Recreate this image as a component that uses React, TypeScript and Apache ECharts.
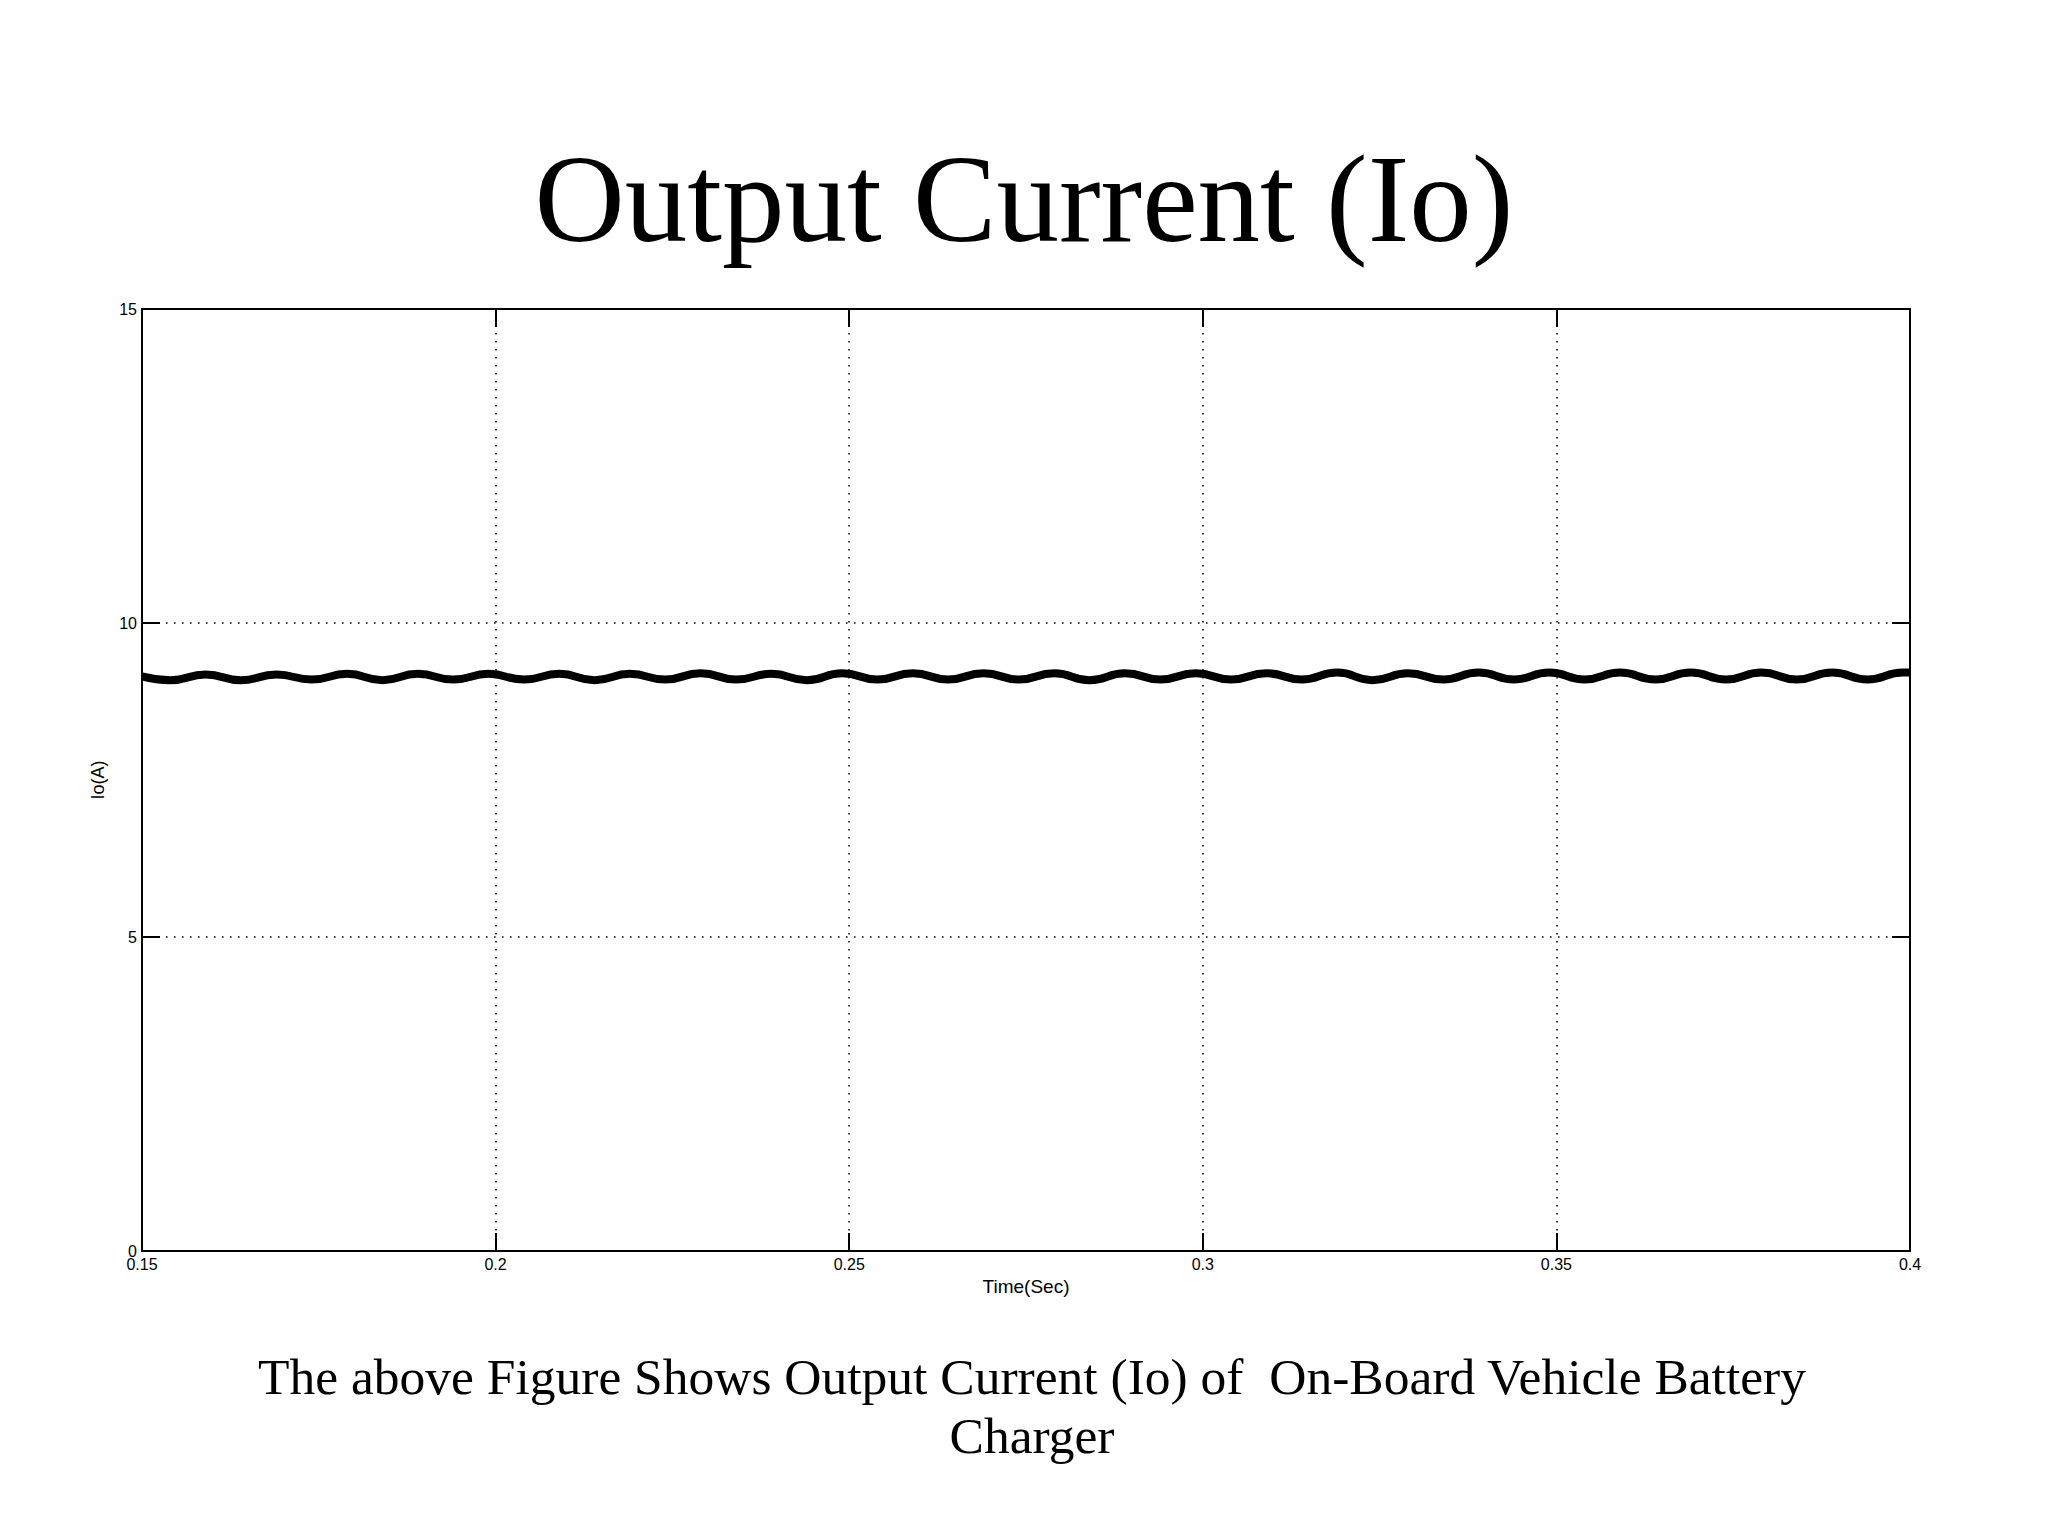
import React, { useRef, useEffect } from "react";
import * as echarts from "echarts";

// sample times (s): start, then trough / peak pairs of the 100 Hz ripple, end
const times = [
  0.15,
  0.154, 0.159, 0.164, 0.169, 0.174, 0.179, 0.184, 0.189, 0.194, 0.199,
  0.204, 0.209, 0.214, 0.219, 0.224, 0.229, 0.234, 0.239, 0.244, 0.249,
  0.254, 0.259, 0.264, 0.269, 0.274, 0.279, 0.284, 0.289, 0.294, 0.299,
  0.304, 0.309, 0.314, 0.319, 0.324, 0.329, 0.334, 0.339, 0.344, 0.349,
  0.354, 0.359, 0.364, 0.369, 0.374, 0.379, 0.384, 0.389, 0.394, 0.399,
  0.4,
];

// output current Io (A) at those times
const current = [
  9.15,
  9.09, 9.18, 9.09, 9.18, 9.1, 9.19, 9.09, 9.19, 9.1, 9.19,
  9.1, 9.19, 9.09, 9.19, 9.1, 9.2, 9.1, 9.19, 9.09, 9.2,
  9.1, 9.2, 9.1, 9.2, 9.1, 9.2, 9.09, 9.2, 9.1, 9.2,
  9.1, 9.2, 9.1, 9.21, 9.09, 9.2, 9.1, 9.21, 9.1, 9.21,
  9.1, 9.21, 9.1, 9.21, 9.1, 9.21, 9.1, 9.21, 9.1, 9.21,
  9.21,
];

const xTicks = [0.15, 0.2, 0.25, 0.3, 0.35, 0.4];
const yTicks = [0, 5, 10, 15];

const titleText = "Output Current (Io)";
const captionLines = [
  "The above Figure Shows Output Current (Io) of  On-Board Vehicle Battery",
  "Charger",
];

const serif = '"Liberation Serif", "Times New Roman", serif';
const sans = '"Liberation Sans", Arial, sans-serif';

const fmtTick = (v: number) => String(Number(v.toFixed(2)));

const App = function () {
  const chart = useRef<HTMLDivElement>(null);

  useEffect(() => {
    if (!chart.current) return;
    const myChart = echarts.init(chart.current, undefined, { renderer: "svg" });

    const xStep = xTicks[1] - xTicks[0];
    const yStep = yTicks[1] - yTicks[0];

    const tick = { show: true, inside: true, length: 18, lineStyle: { color: "#000", width: 2 } };
    const frame = { show: true, onZero: false, lineStyle: { color: "#000", width: 2 } };
    const dotted = {
      show: true,
      lineStyle: { color: "#000", width: 1.5, type: [1.5, 6.5] as number[] },
    };

    const option = {
      animation: false,
      backgroundColor: "#fff",
      title: {
        text: titleText,
        left: "center",
        top: 131,
        textStyle: {
          fontFamily: serif,
          fontSize: 125,
          fontWeight: "normal",
          color: "#000",
        },
      },
      grid: {
        left: 142,
        top: 309,
        width: 1768,
        height: 942,
        containLabel: false,
      },
      xAxis: [
        {
          type: "value",
          position: "bottom",
          min: xTicks[0],
          max: xTicks[xTicks.length - 1],
          interval: xStep,
          name: "Time(Sec)",
          nameLocation: "middle",
          nameGap: 24,
          nameTextStyle: { fontFamily: sans, fontSize: 19, color: "#000" },
          axisLine: frame,
          axisTick: tick,
          axisLabel: {
            margin: 5,
            fontFamily: sans,
            fontSize: 16,
            color: "#000",
            formatter: fmtTick,
          },
          splitLine: dotted,
        },
        {
          type: "value",
          position: "top",
          min: xTicks[0],
          max: xTicks[xTicks.length - 1],
          interval: xStep,
          axisLine: frame,
          axisTick: tick,
          axisLabel: { show: false },
          splitLine: { show: false },
        },
      ],
      yAxis: [
        {
          type: "value",
          position: "left",
          min: yTicks[0],
          max: yTicks[yTicks.length - 1],
          interval: yStep,
          name: "Io(A)",
          nameLocation: "middle",
          nameGap: 35,
          nameTextStyle: { fontFamily: sans, fontSize: 18, color: "#000" },
          axisLine: frame,
          axisTick: tick,
          axisLabel: {
            margin: 5,
            fontFamily: sans,
            fontSize: 16,
            color: "#000",
          },
          splitLine: dotted,
        },
        {
          type: "value",
          position: "right",
          min: yTicks[0],
          max: yTicks[yTicks.length - 1],
          interval: yStep,
          axisLine: frame,
          axisTick: tick,
          axisLabel: { show: false },
          splitLine: { show: false },
        },
      ],
      series: [
        {
          name: "Io",
          type: "line",
          xAxisIndex: 0,
          yAxisIndex: 0,
          data: times.map((t, i) => [t, current[i]]),
          showSymbol: false,
          smooth: 0.5,
          lineStyle: { color: "#000", width: 8 },
          z: 5,
        },
      ],
      graphic: [
        {
          type: "text",
          x: 1032,
          y: 1406,
          style: {
            text: captionLines.join("\n"),
            font: `51.5px ${serif}`,
            lineHeight: 59,
            fill: "#000",
            align: "center",
            verticalAlign: "middle",
          },
        },
      ],
    };

    myChart.setOption(option);
    return () => {
      myChart.dispose();
    };
  }, []);

  return (
    <div
      ref={chart}
      style={{ position: "absolute", left: 0, top: 0, width: 2048, height: 1536 }}
    ></div>
  );
};

export default App;
